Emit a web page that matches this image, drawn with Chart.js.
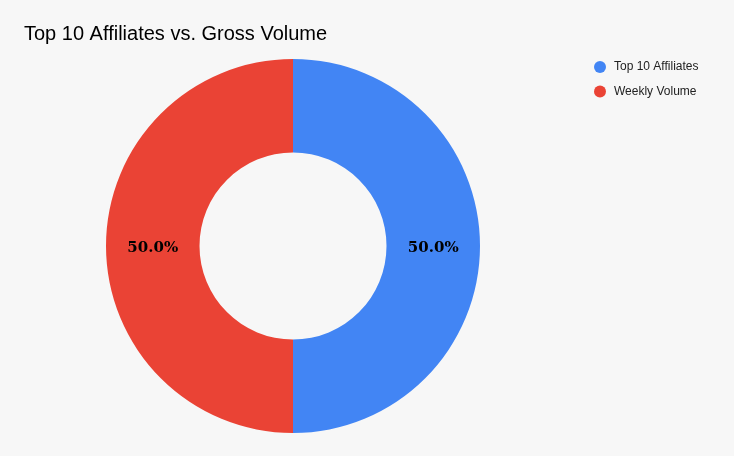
<!DOCTYPE html>
<html>
<head>
<meta charset="utf-8">
<script src="https://cdn.jsdelivr.net/npm/chart.js@4.4.0/dist/chart.umd.min.js"></script>
<style>
  html, body { margin: 0; padding: 0; background: #f7f7f7; }
  #wrap { width: 734px; height: 456px; position: relative; }
</style>
</head>
<body>
<div id="wrap"><canvas id="donut"></canvas></div>
<script>
const labels = ["Top 10 Affiliates", "Weekly Volume"];
const values = [50, 50];
const colors = ["#4285f4", "#ea4335"];

// percentage labels in the middle of each slice
const sliceLabels = {
  id: "sliceLabels",
  afterDatasetsDraw(chart) {
    const ctx = chart.ctx;
    const data = chart.data.datasets[0].data;
    const total = data.reduce((a, b) => a + b, 0);
    ctx.save();
    ctx.font = "bold 15px 'DejaVu Serif'";
    ctx.fillStyle = "#000";
    ctx.textAlign = "center";
    ctx.textBaseline = "middle";
    chart.getDatasetMeta(0).data.forEach((arc, i) => {
      const pos = arc.tooltipPosition();
      const pct = (data[i] / total * 100).toFixed(1) + "%";
      ctx.fillText(pct, pos.x, pos.y + 2);
    });
    ctx.restore();
  }
};

// legend on the right, dots + names
const sideLegend = {
  id: "sideLegend",
  afterDraw(chart) {
    const ctx = chart.ctx;
    const ds = chart.data.datasets[0];
    ctx.save();
    ctx.font = "12px 'Liberation Sans', Arial, sans-serif";
    ctx.textBaseline = "middle";
    chart.data.labels.forEach((lab, i) => {
      const y = 67 + i * 24.5;
      ctx.fillStyle = ds.backgroundColor[i];
      ctx.beginPath();
      ctx.arc(600, y, 6, 0, Math.PI * 2);
      ctx.fill();
      ctx.fillStyle = "#222";
      ctx.fillText(lab, 614, y);
    });
    ctx.restore();
  }
};

new Chart(document.getElementById("donut").getContext("2d"), {
  type: "doughnut",
  data: {
    labels: labels,
    datasets: [
      {
        data: values,
        backgroundColor: colors,
        borderWidth: 0,
      },
    ],
  },
  options: {
    responsive: true,
    maintainAspectRatio: false,
    animation: false,
    cutout: "50%",
    layout: {
      padding: { left: 24, right: 172, top: 0, bottom: 23 },
    },
    plugins: {
      legend: { display: false },
      tooltip: { enabled: false },
      title: {
        display: true,
        text: "Top 10 Affiliates vs. Gross Volume",
        align: "start",
        color: "#000",
        font: { family: "'Liberation Sans', Arial, sans-serif", size: 20, weight: "normal" },
        padding: { top: 22, bottom: 13 },
      },
    },
  },
  plugins: [sliceLabels, sideLegend],
});
</script>
</body>
</html>
